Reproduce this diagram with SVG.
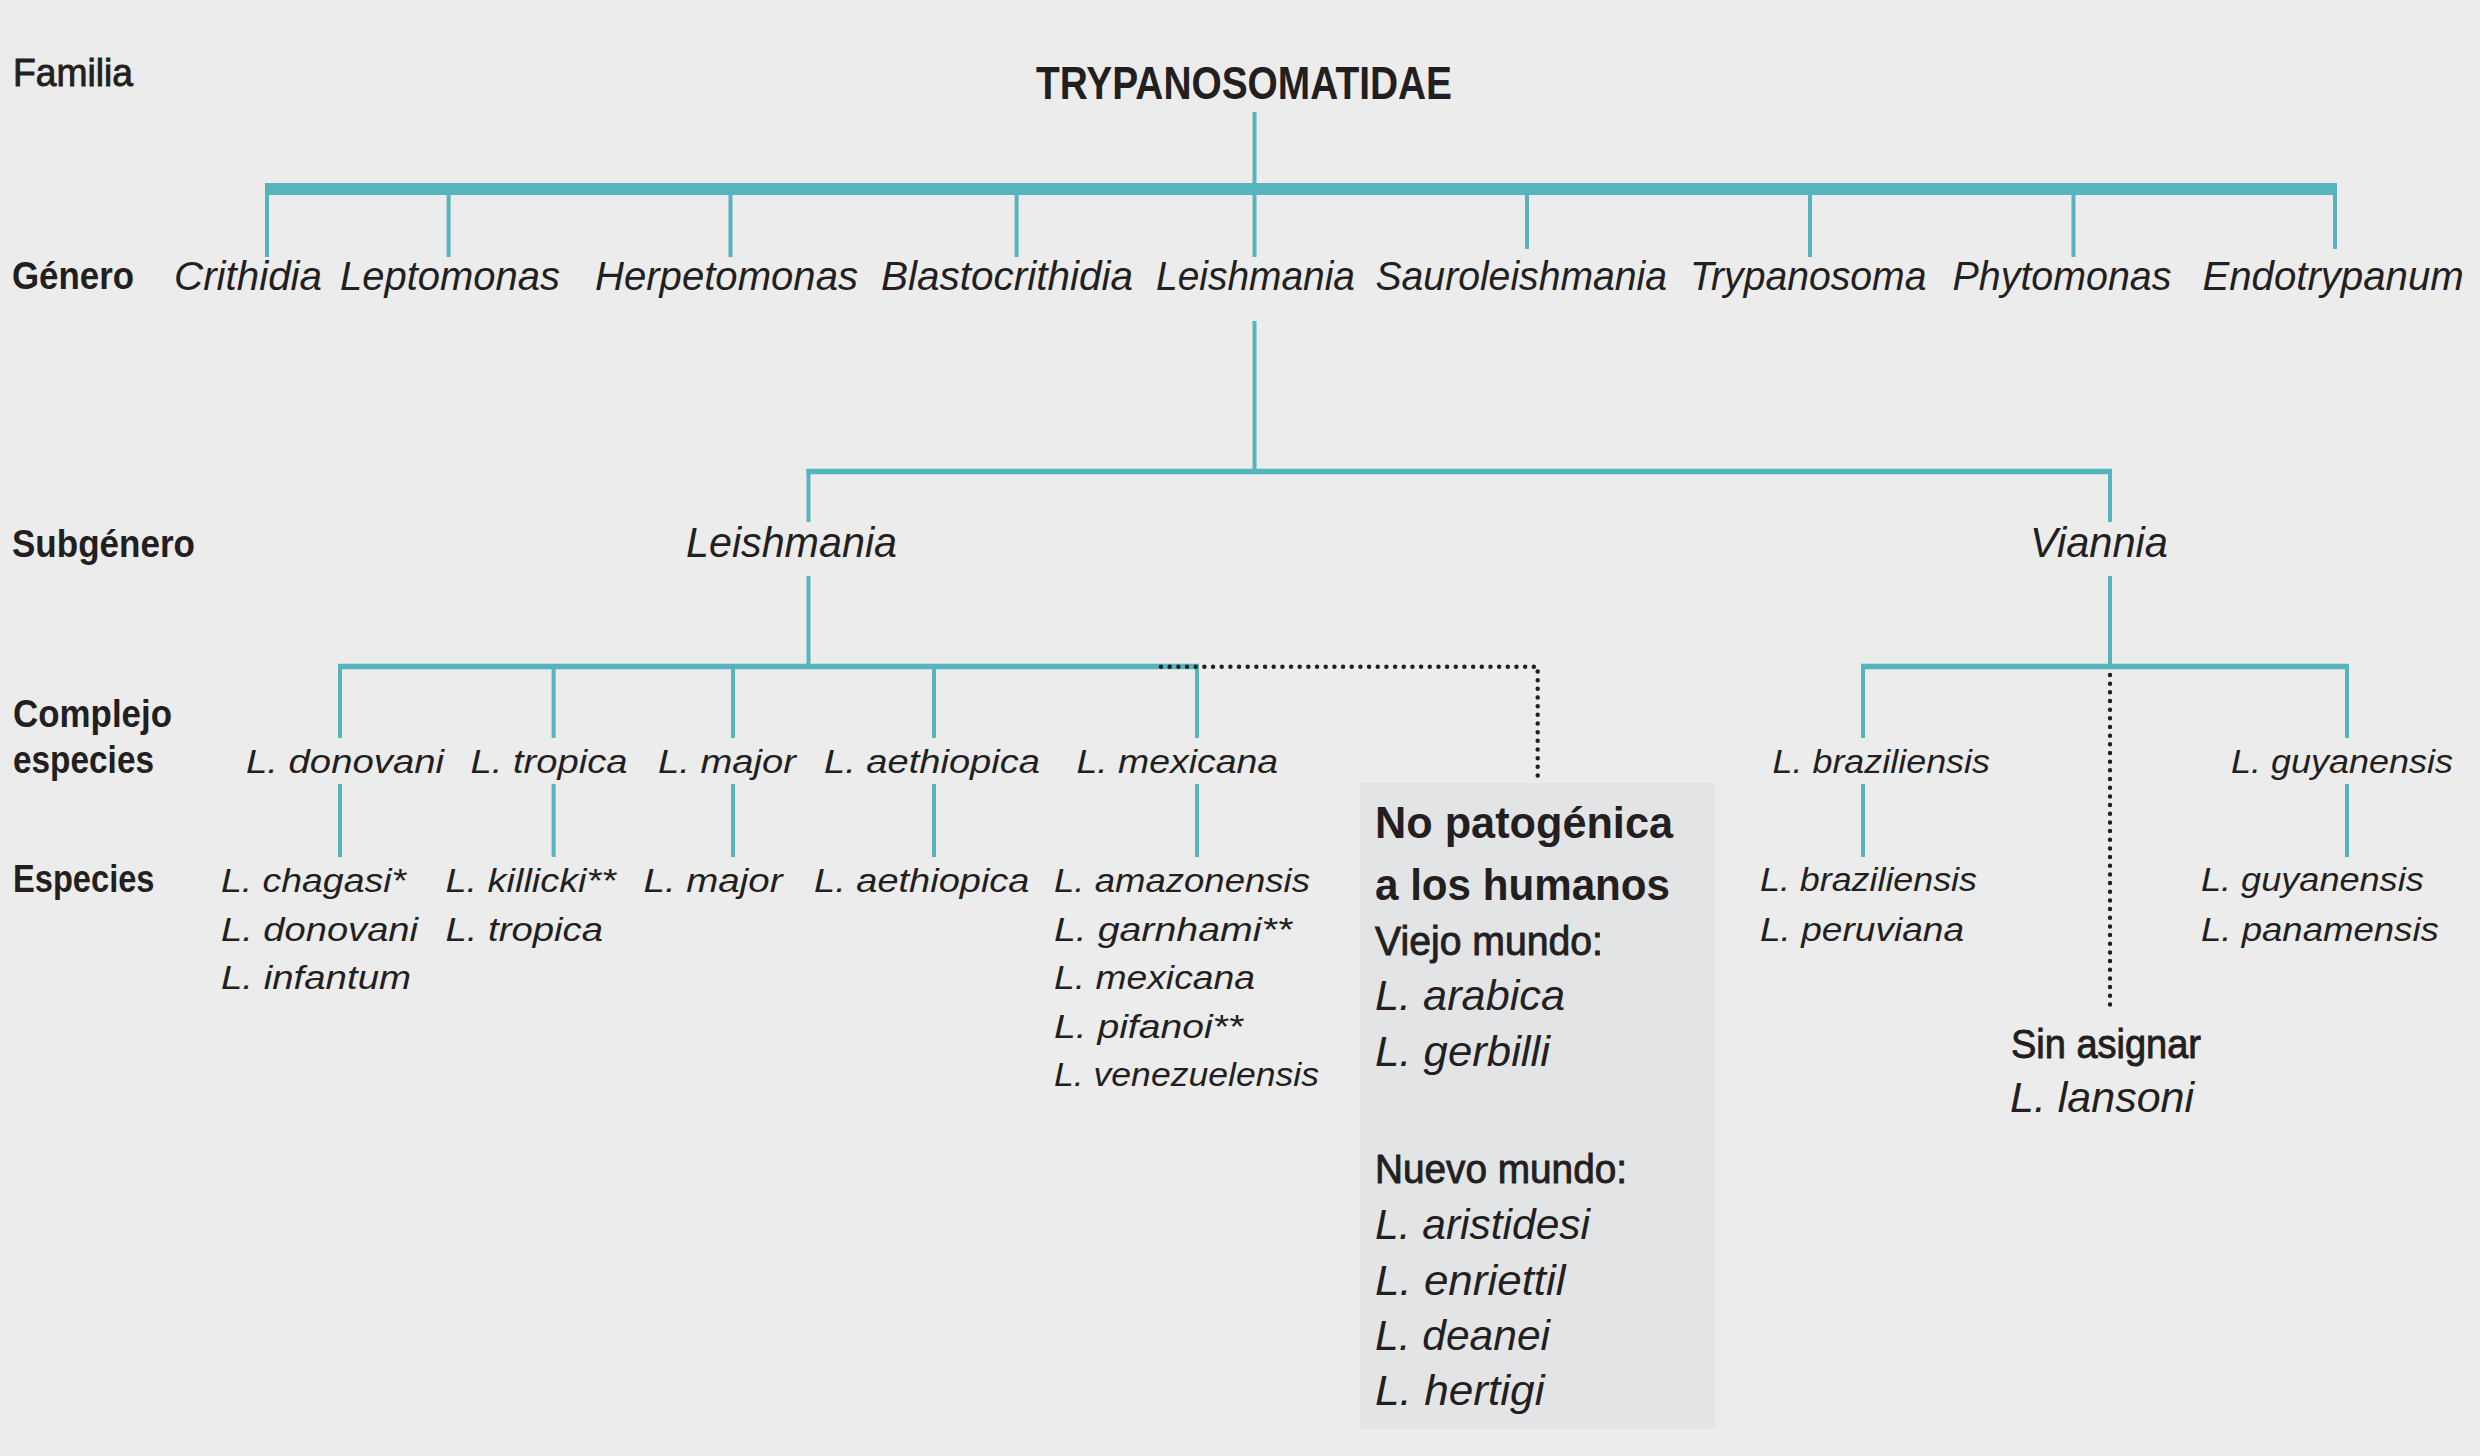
<svg xmlns="http://www.w3.org/2000/svg" width="2480" height="1456" viewBox="0 0 2480 1456">
<style>
text{font-family:"Liberation Sans",Arial,sans-serif;fill:#231f20}
.lab{font-weight:bold;font-size:39px}
.semi{font-weight:normal;stroke:#231f20;stroke-width:0.9px}
.title{font-weight:bold;font-size:47px}
.gen{font-style:italic;font-size:40px}
.sub{font-style:italic;font-size:42px}
.sp{font-style:italic;font-size:34px}
.bt{font-weight:bold;font-size:45px}
.bh{font-size:40px}
.bi{font-style:italic;font-size:43px}
.t{stroke:#55b4bd;fill:none;stroke-width:4}
.dot{stroke:#231f20;fill:none;stroke-width:4.5;stroke-dasharray:0 8.67;stroke-linecap:round}
</style>
<rect x="0" y="0" width="2480" height="1456" fill="#ebeceb"/>
<g id="box-bg"><rect x="1360" y="783" width="355" height="646" fill="#e3e4e6"/></g>

<g id="connectors">
  <line class="t" x1="1254.5" y1="112" x2="1254.5" y2="189"/>
  <line class="t" x1="265" y1="189" x2="2337" y2="189" style="stroke-width:12"/>
  <path class="t" d="M267 195V257M448.6 195V257M730.5 195V257M1016.6 195V257M1254.5 195V257M1527 195V249M1810 195V257M2073.5 195V257M2335 195V249"/>
  <line class="t" x1="1254.5" y1="321" x2="1254.5" y2="472"/>
  <line class="t" x1="806.5" y1="471.5" x2="2112" y2="471.5" style="stroke-width:5.5"/>
  <path class="t" d="M808.5 469V522M2110 469V522M808.5 576V667M2110 576V667"/>
  <line class="t" x1="338" y1="666.5" x2="1199" y2="666.5" style="stroke-width:5.5"/>
  <path class="t" d="M340 664V738M553.6 664V738M733 664V738M934 664V738M1197 664V738M340 784V857M553.6 784V857M733 784V857M934 784V857M1197 784V857"/>
  <line class="t" x1="1861" y1="666.5" x2="2349" y2="666.5" style="stroke-width:5.5"/>
  <path class="t" d="M1863 664V738M2347 664V738M1863 784V857M2347 784V857"/>
  <path class="dot" d="M1161 666.7H1537.7V782"/>
  <path class="dot" d="M2110 675V1005"/>
</g>

<g id="row-labels">
  <text class="lab semi" x="13" y="86" textLength="120" lengthAdjust="spacingAndGlyphs">Familia</text>
  <text class="lab" x="12" y="289" textLength="122" lengthAdjust="spacingAndGlyphs">Género</text>
  <text class="lab" x="12" y="557" textLength="183" lengthAdjust="spacingAndGlyphs">Subgénero</text>
  <text class="lab" x="13" y="727" textLength="159" lengthAdjust="spacingAndGlyphs">Complejo</text>
  <text class="lab" x="13" y="773" textLength="141" lengthAdjust="spacingAndGlyphs">especies</text>
  <text class="lab" x="13" y="892" textLength="141.5" lengthAdjust="spacingAndGlyphs">Especies</text>
</g>

<g id="familia"><text class="title" x="1036" y="99" textLength="416" lengthAdjust="spacingAndGlyphs">TRYPANOSOMATIDAE</text></g>

<g id="generos">
  <text class="gen" x="174" y="290" textLength="148" lengthAdjust="spacingAndGlyphs">Crithidia</text>
  <text class="gen" x="340" y="290" textLength="220" lengthAdjust="spacingAndGlyphs">Leptomonas</text>
  <text class="gen" x="595" y="290" textLength="263" lengthAdjust="spacingAndGlyphs">Herpetomonas</text>
  <text class="gen" x="881" y="290" textLength="252" lengthAdjust="spacingAndGlyphs">Blastocrithidia</text>
  <text class="gen" x="1156" y="290" textLength="199" lengthAdjust="spacingAndGlyphs">Leishmania</text>
  <text class="gen" x="1375.5" y="290" textLength="291.5" lengthAdjust="spacingAndGlyphs">Sauroleishmania</text>
  <text class="gen" x="1690" y="290" textLength="236.5" lengthAdjust="spacingAndGlyphs">Trypanosoma</text>
  <text class="gen" x="1952.6" y="290" textLength="218.8" lengthAdjust="spacingAndGlyphs">Phytomonas</text>
  <text class="gen" x="2202.4" y="290" textLength="261.3" lengthAdjust="spacingAndGlyphs">Endotrypanum</text>
</g>

<g id="subgeneros">
  <text class="sub" x="686" y="557" textLength="211" lengthAdjust="spacingAndGlyphs">Leishmania</text>
  <text class="sub" x="2030" y="557" textLength="138" lengthAdjust="spacingAndGlyphs">Viannia</text>
</g>

<g id="complejos">
  <text class="sp" x="246" y="773" textLength="198" lengthAdjust="spacingAndGlyphs">L. donovani</text>
  <text class="sp" x="470.5" y="773" textLength="157" lengthAdjust="spacingAndGlyphs">L. tropica</text>
  <text class="sp" x="658" y="773" textLength="138" lengthAdjust="spacingAndGlyphs">L. major</text>
  <text class="sp" x="824" y="773" textLength="216" lengthAdjust="spacingAndGlyphs">L. aethiopica</text>
  <text class="sp" x="1076.5" y="773" textLength="201.5" lengthAdjust="spacingAndGlyphs">L. mexicana</text>
  <text class="sp" x="1772.5" y="773" textLength="217.5" lengthAdjust="spacingAndGlyphs">L. braziliensis</text>
  <text class="sp" x="2231" y="773" textLength="222" lengthAdjust="spacingAndGlyphs">L. guyanensis</text>
</g>

<g id="especies-donovani">
  <text class="sp" x="221" y="892" textLength="185" lengthAdjust="spacingAndGlyphs">L. chagasi*</text>
  <text class="sp" x="221" y="940.5" textLength="197" lengthAdjust="spacingAndGlyphs">L. donovani</text>
  <text class="sp" x="221" y="989" textLength="190" lengthAdjust="spacingAndGlyphs">L. infantum</text>
</g>
<g id="especies-tropica">
  <text class="sp" x="445.5" y="892" textLength="170.5" lengthAdjust="spacingAndGlyphs">L. killicki**</text>
  <text class="sp" x="445.5" y="940.5" textLength="157.5" lengthAdjust="spacingAndGlyphs">L. tropica</text>
</g>
<g id="especies-major"><text class="sp" x="643.5" y="892" textLength="139" lengthAdjust="spacingAndGlyphs">L. major</text></g>
<g id="especies-aethiopica"><text class="sp" x="814" y="892" textLength="215.5" lengthAdjust="spacingAndGlyphs">L. aethiopica</text></g>
<g id="especies-mexicana">
  <text class="sp" x="1054" y="892" textLength="256" lengthAdjust="spacingAndGlyphs">L. amazonensis</text>
  <text class="sp" x="1054" y="940.5" textLength="238" lengthAdjust="spacingAndGlyphs">L. garnhami**</text>
  <text class="sp" x="1054" y="989" textLength="201" lengthAdjust="spacingAndGlyphs">L. mexicana</text>
  <text class="sp" x="1054" y="1037.5" textLength="189" lengthAdjust="spacingAndGlyphs">L. pifanoi**</text>
  <text class="sp" x="1054" y="1086" textLength="265" lengthAdjust="spacingAndGlyphs">L. venezuelensis</text>
</g>
<g id="especies-braziliensis">
  <text class="sp" x="1760" y="891" textLength="217" lengthAdjust="spacingAndGlyphs">L. braziliensis</text>
  <text class="sp" x="1760" y="941" textLength="204" lengthAdjust="spacingAndGlyphs">L. peruviana</text>
</g>
<g id="especies-guyanensis">
  <text class="sp" x="2201" y="891" textLength="222.7" lengthAdjust="spacingAndGlyphs">L. guyanensis</text>
  <text class="sp" x="2201" y="941" textLength="237.8" lengthAdjust="spacingAndGlyphs">L. panamensis</text>
</g>

<g id="no-patogenica">
  <text class="bt" x="1375" y="838" textLength="298" lengthAdjust="spacingAndGlyphs">No patogénica</text>
  <text class="bt" x="1375" y="900" textLength="295" lengthAdjust="spacingAndGlyphs">a los humanos</text>
  <text class="bh semi" x="1375" y="955" textLength="228" lengthAdjust="spacingAndGlyphs">Viejo mundo:</text>
  <text class="bi" x="1375" y="1010" textLength="190" lengthAdjust="spacingAndGlyphs">L. arabica</text>
  <text class="bi" x="1375" y="1066" textLength="175" lengthAdjust="spacingAndGlyphs">L. gerbilli</text>
  <text class="bh semi" x="1375" y="1183" textLength="252" lengthAdjust="spacingAndGlyphs">Nuevo mundo:</text>
  <text class="bi" x="1375" y="1239" textLength="215" lengthAdjust="spacingAndGlyphs">L. aristidesi</text>
  <text class="bi" x="1375" y="1295" textLength="190.6" lengthAdjust="spacingAndGlyphs">L. enriettil</text>
  <text class="bi" x="1375" y="1350" textLength="175" lengthAdjust="spacingAndGlyphs">L. deanei</text>
  <text class="bi" x="1375" y="1405" textLength="169.5" lengthAdjust="spacingAndGlyphs">L. hertigi</text>
</g>

<g id="sin-asignar">
  <text class="bh semi" x="2011" y="1058" textLength="190" lengthAdjust="spacingAndGlyphs">Sin asignar</text>
  <text class="bi" x="2010" y="1112" textLength="184" lengthAdjust="spacingAndGlyphs">L. lansoni</text>
</g>
</svg>
